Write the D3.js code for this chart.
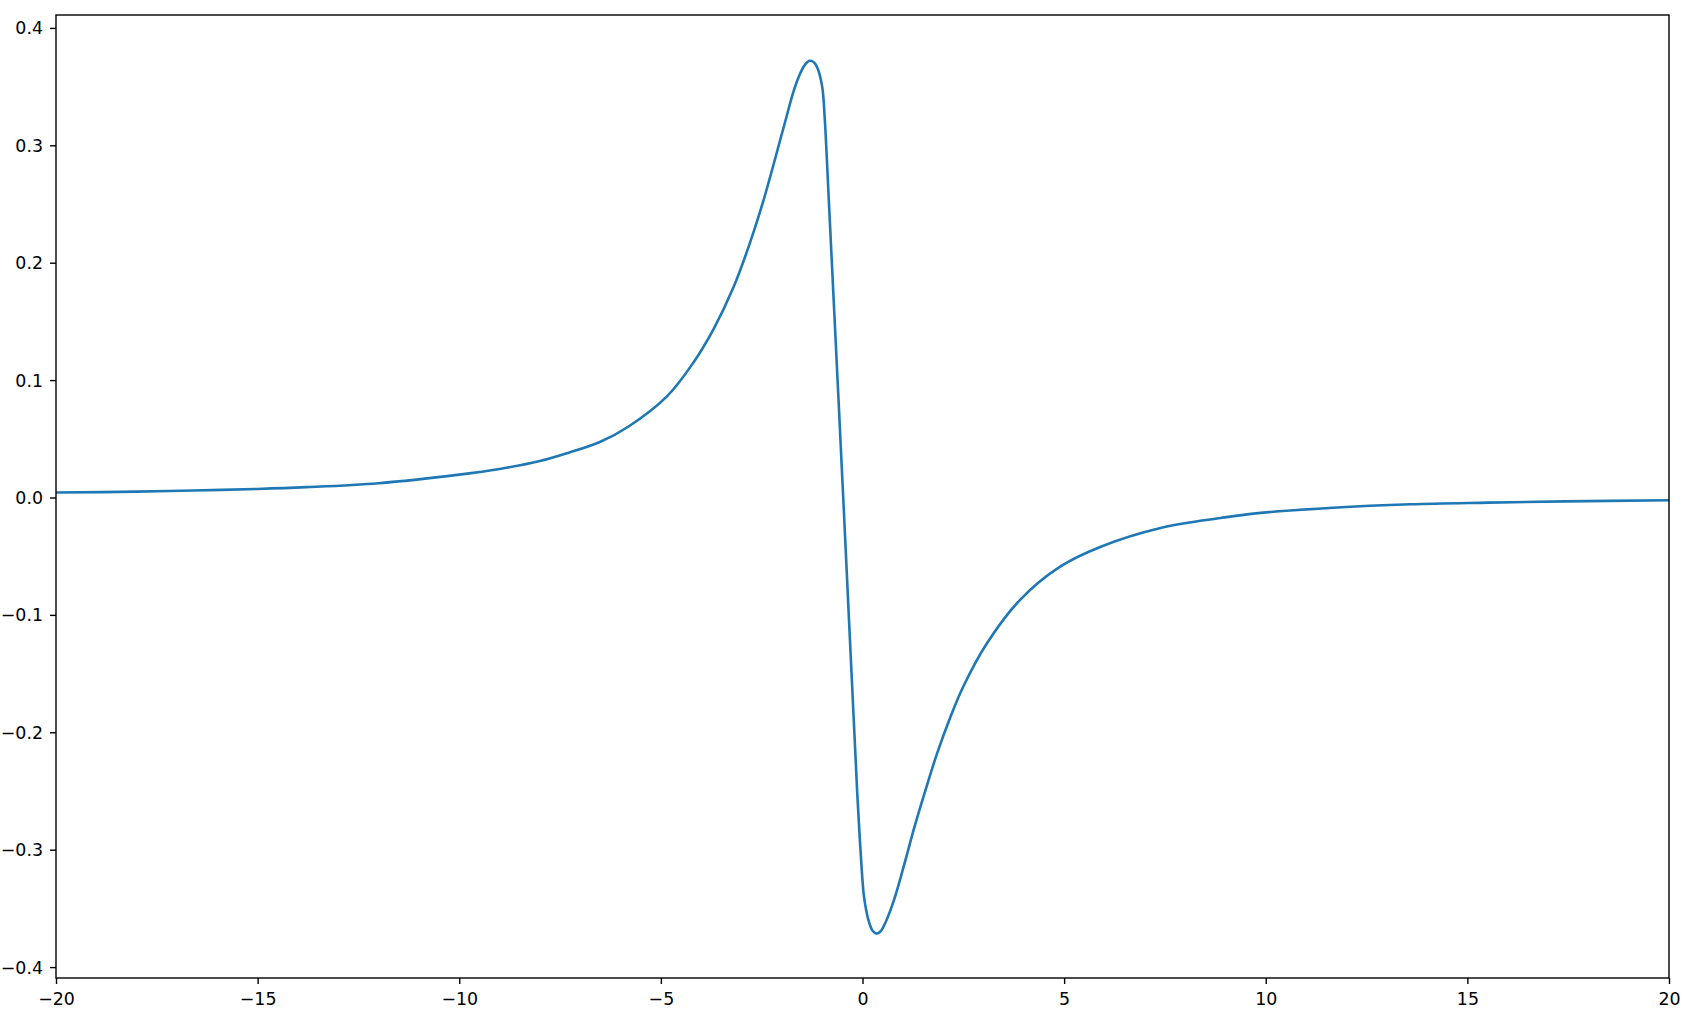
<!DOCTYPE html>
<html>
<head>
<meta charset="utf-8">
<script src="https://d3js.org/d3.v7.min.js"></script>
<style>
  body { margin: 0; background: #fff; overflow: hidden; }
  svg { display: block; }
  .tick-label { font-family: "DejaVu Sans", sans-serif; font-size: 17.4px; fill: #000; }
</style>
</head>
<body>
<svg id="chart"></svg>
<script>
// values
var xs = [-20, -18, -16.6, -15, -13.8, -12, -10, -9, -8, -7.3, -6.5, -5.8, -4.85, -4.2, -3.7,
          -3.2, -2.8, -2.45, -1.95, -1.7, -1.54, -1.42, -1.31, -1.2, -1.12, -1.0, -0.94,
          -0.836, -0.464, -0.13, -0.05, 0.03, 0.1, 0.16, 0.25, 0.35, 0.45, 0.57, 0.78, 1.02,
          1.27, 1.52, 1.85, 2.18, 2.5, 3.09, 3.92, 4.91, 5.91, 7.39, 8.88, 9.75, 11.67, 13.59, 15.51, 17.43, 20];
var ys = [0.0042, 0.005, 0.006, 0.0073, 0.0088, 0.0122, 0.0195, 0.0243, 0.031, 0.038, 0.0475, 0.0605, 0.0861, 0.1146, 0.143,
          0.179, 0.216, 0.2537, 0.316, 0.347, 0.3616, 0.369, 0.372, 0.3705, 0.366, 0.350, 0.325,
          0.2537, -0.01, -0.252, -0.300, -0.338, -0.353, -0.3615, -0.369, -0.3715, -0.3695, -0.362, -0.343, -0.3145,
          -0.283, -0.254, -0.218, -0.187, -0.161, -0.124, -0.0867, -0.0587, -0.0419, -0.026, -0.0175, -0.0135, -0.0087, -0.0058, -0.0044, -0.0033, -0.0024];
var xTicks = [-20, -15, -10, -5, 0, 5, 10, 15, 20];
var yTicks = [-0.4, -0.3, -0.2, -0.1, 0.0, 0.1, 0.2, 0.3, 0.4];

var width = 1707, height = 1022,
    margin = {top: 15, right: 38, bottom: 44, left: 56},
    innerWidth = width - margin.left - margin.right,
    innerHeight = height - margin.top - margin.bottom;

var xScale = d3.scaleLinear().domain([-20, 20]).range([0, innerWidth]),
    yScale = d3.scaleLinear().domain([-0.4093, 0.411]).range([innerHeight, 0]);

var minus = function(s){ return s.replace("-", "\u2212"); };

var xAxis = d3.axisBottom(xScale)
      .tickValues(xTicks)
      .tickSize(6)
      .tickPadding(9)
      .tickFormat(function(d){ return minus(d3.format("d")(d)); }),
    yAxis = d3.axisLeft(yScale)
      .tickValues(yTicks)
      .tickSize(6)
      .tickPadding(7)
      .tickFormat(function(d){ return minus(d3.format(".1f")(d)); });

var svg = d3.select("#chart")
      .attr("width", width)
      .attr("height", height)
    .append("g")
      .attr("transform", "translate(" + margin.left + "," + margin.top + ")");

var data = xs.map(function(x, i){ return {x: x, y: ys[i]}; });

var line = d3.line()
    .x(function(d){ return xScale(d.x); })
    .y(function(d){ return yScale(d.y); })
    .curve(d3.curveCatmullRom.alpha(0.5));

svg.append("path")
    .datum(data)
    .attr("fill", "none")
    .attr("stroke", "#1f77b4")
    .attr("stroke-width", 2.6)
    .attr("stroke-linejoin", "round")
    .attr("d", line);

var gx = svg.append("g")
    .attr("transform", "translate(0," + innerHeight + ")")
    .call(xAxis);
var gy = svg.append("g")
    .call(yAxis);

[gx, gy].forEach(function(g){
  g.select(".domain").remove();
  g.selectAll(".tick line").attr("stroke", "#000").attr("stroke-width", 1.4);
  g.selectAll(".tick text")
    .attr("class", "tick-label")
    .attr("font-size", null)
    .attr("font-family", null);
});
gx.selectAll(".tick text").attr("dy", "0.71em");
gy.selectAll(".tick text").attr("dy", "0.34em");

// frame
svg.append("rect")
    .attr("x", 0)
    .attr("y", 0)
    .attr("width", innerWidth)
    .attr("height", innerHeight)
    .attr("fill", "none")
    .attr("stroke", "#000")
    .attr("stroke-width", 1.4);
</script>
</body>
</html>
